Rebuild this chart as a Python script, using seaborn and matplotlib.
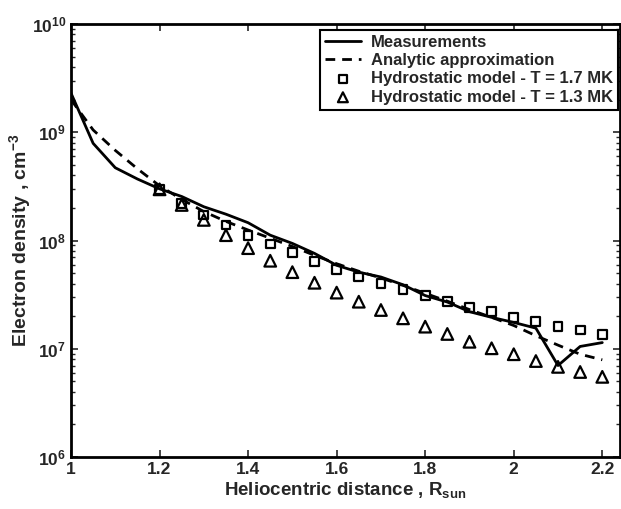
import numpy as np
import pandas as pd
import matplotlib
matplotlib.use('Agg')
import matplotlib.pyplot as plt
import seaborn as sns
from matplotlib.ticker import LogLocator, NullFormatter

# measured electron density profile
r_meas = [1.00, 1.05, 1.10, 1.15, 1.20, 1.25, 1.30, 1.35, 1.40, 1.45, 1.50, 1.55, 1.60,
          1.65, 1.70, 1.75, 1.80, 1.85, 1.90, 1.95, 2.00, 2.05, 2.10, 2.15, 2.20]
n_meas = [2.3e9, 7.9e8, 4.7e8, 3.7e8, 3.0e8, 2.55e8, 2.05e8, 1.75e8, 1.46e8, 1.12e8, 9.4e7, 7.6e7, 5.9e7,
          5.1e7, 4.6e7, 3.9e7, 3.1e7, 2.7e7, 2.2e7, 1.95e7, 1.75e7, 1.55e7, 7.0e6, 1.05e7, 1.14e7]

# analytic approximation
r_fit = [1.00, 1.05, 1.10, 1.15, 1.20, 1.25, 1.30, 1.35, 1.40, 1.45, 1.50, 1.55, 1.60,
         1.65, 1.70, 1.75, 1.80, 1.85, 1.90, 1.95, 2.00, 2.05, 2.10, 2.15, 2.20]
n_fit = [2.0e9, 1.05e9, 6.8e8, 4.6e8, 3.2e8, 2.4e8, 1.85e8, 1.5e8, 1.25e8, 1.05e8, 8.8e7, 7.3e7, 6.1e7,
         5.2e7, 4.5e7, 3.85e7, 3.25e7, 2.75e7, 2.3e7, 1.95e7, 1.64e7, 1.32e7, 1.08e7, 8.9e6, 7.9e6]

# hydrostatic models
r_hyd = [1.20, 1.25, 1.30, 1.35, 1.40, 1.45, 1.50, 1.55, 1.60, 1.65, 1.70,
         1.75, 1.80, 1.85, 1.90, 1.95, 2.00, 2.05, 2.10, 2.15, 2.20]
n_hyd17 = [2.97e8, 2.21e8, 1.72e8, 1.39e8, 1.12e8, 9.3e7, 7.7e7, 6.4e7, 5.4e7, 4.6e7, 4.0e7,
           3.5e7, 3.1e7, 2.72e7, 2.42e7, 2.2e7, 1.95e7, 1.78e7, 1.6e7, 1.49e7, 1.36e7]
n_hyd13 = [2.97e8, 2.13e8, 1.55e8, 1.12e8, 8.5e7, 6.5e7, 5.1e7, 4.07e7, 3.3e7, 2.72e7, 2.28e7,
           1.91e7, 1.6e7, 1.37e7, 1.16e7, 1.01e7, 8.9e6, 7.7e6, 6.8e6, 6.1e6, 5.5e6]

sns.set_style('ticks')
plt.rcParams['font.family'] = ['Liberation Sans', 'DejaVu Sans']
plt.rcParams['font.weight'] = 'bold'
plt.rcParams['mathtext.fontset'] = 'custom'
plt.rcParams['mathtext.rm'] = 'Liberation Sans:bold'
plt.rcParams['mathtext.bf'] = 'Liberation Sans:bold'
plt.rcParams['mathtext.it'] = 'Liberation Sans:bold'
plt.rcParams['mathtext.default'] = 'bf'

fig = plt.figure(figsize=(6.21, 5.09), dpi=100)
ax = fig.add_axes([71/621, 52/509, 549/621, 433/509])

sns.lineplot(x=r_meas, y=n_meas, color='black', lw=2, label='Measurements', ax=ax)
sns.lineplot(x=r_fit, y=n_fit, color='black', lw=2, linestyle=(0, (3.5, 2.5)), label='Analytic approximation', ax=ax)
sns.scatterplot(x=r_hyd, y=n_hyd17, marker='s', s=40, facecolor='none', edgecolor='black',
                linewidth=1.6, label='Hydrostatic model - T = 1.7 MK', ax=ax)
sns.scatterplot(x=r_hyd, y=n_hyd13, marker='^', s=70, facecolor='none', edgecolor='black',
                linewidth=1.6, label='Hydrostatic model - T = 1.3 MK', ax=ax)

ax.set_yscale('log')
ax.set_xlim(1, 2.24)
ax.set_ylim(1e6, 1e10)
ax.set_xticks([1, 1.2, 1.4, 1.6, 1.8, 2, 2.2])
ax.set_xticklabels(['1', '1.2', '1.4', '1.6', '1.8', '2', '2.2'])
ax.yaxis.set_major_locator(LogLocator(base=10, numticks=10))
ax.yaxis.set_minor_locator(LogLocator(base=10, subs=np.arange(2, 10), numticks=20))
ax.yaxis.set_minor_formatter(NullFormatter())
ax.tick_params(axis='both', which='both', direction='in', top=True, right=True, labelsize=12.5)
ax.tick_params(axis='both', which='major', length=5, width=1.2)
ax.tick_params(axis='y', which='minor', length=3, width=1)
for s in ax.spines.values():
    s.set_linewidth(2)
    s.set_color('black')

ax.set_xlabel('Heliocentric distance , R$_{sun}$', fontsize=13.5, fontweight='bold', labelpad=2)
ax.set_ylabel('Electron density , cm$^{-3}$', fontsize=14, fontweight='bold', labelpad=-1)

leg = ax.legend(loc='upper right', bbox_to_anchor=(0.997, 0.987), frameon=True, fancybox=False,
                fontsize=12, handlelength=2.2, borderpad=0.3, labelspacing=0.2, handletextpad=0.6,
                borderaxespad=0, markerscale=0.85)
leg.get_frame().set_edgecolor('black')
leg.get_frame().set_linewidth(1.5)
leg.get_frame().set_alpha(1)

fig.savefig('out.png', dpi=100)
